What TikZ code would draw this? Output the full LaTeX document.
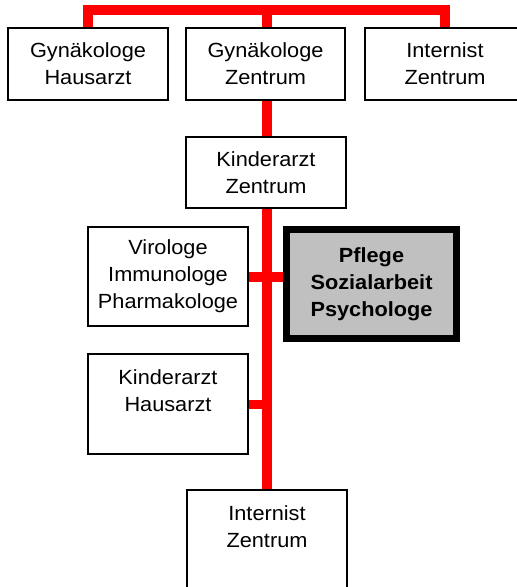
\documentclass[tikz,border=0pt]{standalone}
\usepackage{fontspec}
\setmainfont{Liberation Sans}[FakeStretch=1.06]
\definecolor{boxgray}{RGB}{192,192,192}
\pgfdeclarelayer{bg}
\pgfsetlayers{bg,main}
\begin{document}
\begin{tikzpicture}[x=1pt,y=-1pt,
  box/.style={draw=black, line width=1.2pt, fill=white, align=center,
    font=\fontsize{20.5}{27}\selectfont, inner sep=0pt, minimum width=160pt},
  redline/.style={draw=red, line width=10pt},
  keybox/.style={draw=black, line width=6pt, fill=boxgray, align=center,
    font=\fontsize{20.5}{27}\selectfont\bfseries, inner sep=0pt}]
\useasboundingbox (0,0) rectangle (517,587);

\node[box, minimum height=72pt] (gh) at (88,64) {Gynäkologe\\Hausarzt};
\node[box, minimum width=159pt, minimum height=72pt] (gz) at (265.5,64) {Gynäkologe\\Zentrum};
\node[box, minimum height=72pt] (iz) at (445,64) {Internist\\Zentrum};
\node[box, minimum height=71pt] (kz) at (266,172.5) {Kinderarzt\\Zentrum};
\node[box, minimum height=99pt] (vip) at (168,276.5) {Virologe\\Immunologe\\Pharmakologe};
\node[keybox, minimum width=171pt, minimum height=110pt] (pfl) at (371.5,284) {Pflege\\Sozialarbeit\\Psychologe};
\draw[line width=1.3pt] ([shift={(6.5,6.5)}]pfl.north west) rectangle ([shift={(-6.5,-6.5)}]pfl.south east);
\node[box, minimum height=100pt] (kh) at (168,404) {Kinderarzt\\Hausarzt\\~};
\node[box, minimum height=100pt] (iz2) at (267,540) {Internist\\Zentrum\\~};

\coordinate (bus) at (266.5,10);
\begin{pgfonlayer}{bg}
  \draw[redline] (gh.north) -- (gh.north |- bus) -- (iz.north |- bus) -- (iz.north);
  \draw[redline] (bus) -- (bus |- gz.north);
  \draw[redline] (bus |- gz.south) -- (bus |- kz.north);
  \draw[redline] (bus |- kz.south) -- (bus |- iz2.north);
  \draw[redline] (vip.east) -- (vip.east -| pfl.west);
  \draw[redline, line width=9pt] (kh.east) -- (kh.east -| bus);
\end{pgfonlayer}
\end{tikzpicture}
\end{document}
